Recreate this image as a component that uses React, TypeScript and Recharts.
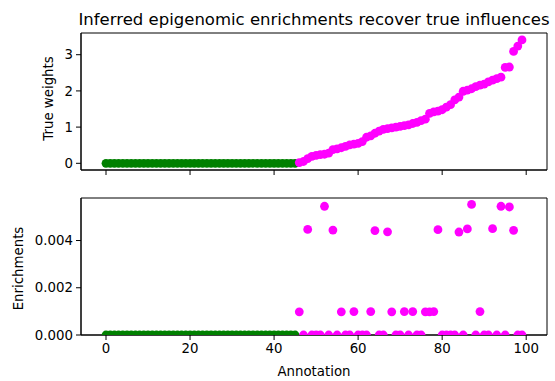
import React from "react";
import { ScatterChart, Scatter, XAxis, YAxis, ReferenceArea } from "recharts";

// annotations 0..45 have no influence, 46..99 are the active ones
const inactiveWeights = [
  0, 0, 0, 0, 0, 0, 0, 0, 0, 0, 0, 0, 0, 0, 0, 0, 0, 0, 0, 0, 0, 0, 0,
  0, 0, 0, 0, 0, 0, 0, 0, 0, 0, 0, 0, 0, 0, 0, 0, 0, 0, 0, 0, 0, 0, 0,
];
const activeWeights = [
  0.02, 0.05, 0.13, 0.19, 0.22, 0.24, 0.25, 0.28, 0.38, 0.4, 0.43, 0.47,
  0.51, 0.53, 0.55, 0.6, 0.72, 0.76, 0.83, 0.89, 0.94, 0.96, 0.98, 1.0,
  1.02, 1.04, 1.06, 1.1, 1.13, 1.18, 1.22, 1.38, 1.42, 1.44, 1.48, 1.55,
  1.62, 1.75, 1.83, 1.99, 2.02, 2.06, 2.12, 2.16, 2.19, 2.25, 2.3, 2.34,
  2.38, 2.65, 2.66, 3.09, 3.24, 3.41,
];
const inactiveEnrichments = [
  0, 0, 0, 0, 0, 0, 0, 0, 0, 0, 0, 0, 0, 0, 0, 0, 0, 0, 0, 0, 0, 0, 0,
  0, 0, 0, 0, 0, 0, 0, 0, 0, 0, 0, 0, 0, 0, 0, 0, 0, 0, 0, 0, 0, 0, 0,
];
const activeEnrichments = [
  0.00098, 0, 0.00447, 0, 0, 0, 0.00545, 0, 0.00444, 0, 0.00098, 0, 0,
  0.00099, 0, 0, 0, 0.00099, 0.00442, 0, 0, 0.00437, 0.00098, 0, 0,
  0.00099, 0, 0.00099, 0, 0, 0.00098, 0.00098, 0.00099, 0.00446, 0, 0, 0,
  0, 0.00436, 0, 0.00449, 0.00553, 0, 0.00099, 0, 0, 0.0045, 0, 0.00545,
  0, 0.00542, 0.00443, 0, 0,
];

const xTicks = [0, 20, 40, 60, 80, 100];
const weightTicks = [0, 1, 2, 3];
const enrichmentTicks = [0, 0.002, 0.004];

const X_DOMAIN: [number, number] = [-5.95, 104.95];
const WEIGHT_DOMAIN: [number, number] = [-0.185, 3.6];
const ENRICH_DOMAIN: [number, number] = [0, 0.0058];

const FONT = "DejaVu Sans, sans-serif";
const GREEN = "#008000";
const MAGENTA = "#ff00ff";

const toPoints = (values: number[], start: number) =>
  values.map((y, i) => ({ x: start + i, y }));

const Dot = (props: any) => (
  <circle cx={props.cx} cy={props.cy} r={4.4} fill={props.fill} />
);

const tickStyle = { fill: "#000", fontSize: 13.33, fontFamily: FONT };

function yTitle(text: string, dx: number, dy: number) {
  return (props: any) => {
    const vb = props.viewBox || {};
    const cx = (vb.x ?? 0) + dx;
    const cy = (vb.y ?? 0) + (vb.height ?? 0) / 2 + dy;
    return (
      <text
        x={cx}
        y={cy}
        transform={`rotate(-90, ${cx}, ${cy})`}
        textAnchor="middle"
        dominantBaseline="central"
        fill="#000"
        fontSize={13.33}
        fontFamily={FONT}
      >
        {text}
      </text>
    );
  };
}

function xTitle(text: string) {
  return (props: any) => {
    const vb = props.viewBox || {};
    const cx = (vb.x ?? 0) + (vb.width ?? 0) / 2;
    return (
      <text
        x={cx}
        y={(vb.y ?? 0) + 41}
        textAnchor="middle"
        fill="#000"
        fontSize={13.33}
        fontFamily={FONT}
      >
        {text}
      </text>
    );
  };
}

export default function App() {
  const topGreen = toPoints(inactiveWeights, 0);
  const topMagenta = toPoints(activeWeights, inactiveWeights.length);
  const botGreen = toPoints(inactiveEnrichments, 0);
  const botMagenta = toPoints(activeEnrichments, inactiveEnrichments.length);

  return (
    <div
      style={{
        position: "absolute",
        left: 0,
        top: 0,
        width: 555,
        height: 381,
        background: "#fff",
        fontFamily: FONT,
      }}
    >
      <div
        style={{
          position: "absolute",
          left: 314,
          top: 11,
          transform: "translateX(-50%)",
          fontSize: 16.5,
          lineHeight: "17px",
          whiteSpace: "nowrap",
          color: "#000",
        }}
      >
        Inferred epigenomic enrichments recover true influences
      </div>

      <div style={{ position: "absolute", left: 0, top: 0 }}>
        <ScatterChart
          width={555}
          height={190}
          margin={{ top: 33, right: 8, bottom: 0, left: 11 }}
        >
          <XAxis
            type="number"
            dataKey="x"
            domain={X_DOMAIN}
            ticks={xTicks}
            allowDataOverflow
            tickFormatter={() => ""}
            height={20}
            tickSize={5}
            stroke="#000"
          />
          <YAxis
            type="number"
            dataKey="y"
            domain={WEIGHT_DOMAIN}
            ticks={weightTicks}
            width={70}
            tickSize={5}
            tickMargin={3}
            stroke="#000"
            tick={tickStyle}
            label={yTitle("True weights", 37, -3)}
          />
          <ReferenceArea
            x1={X_DOMAIN[0]}
            x2={X_DOMAIN[1]}
            y1={WEIGHT_DOMAIN[0]}
            y2={WEIGHT_DOMAIN[1]}
            ifOverflow="visible"
            fill="none"
            stroke="#000"
            strokeWidth={1}
          />
          <Scatter data={topGreen} fill={GREEN} shape={Dot} isAnimationActive={false} />
          <Scatter data={topMagenta} fill={MAGENTA} shape={Dot} isAnimationActive={false} />
        </ScatterChart>
      </div>

      <div style={{ position: "absolute", left: 0, top: 190 }}>
        <ScatterChart
          width={555}
          height={191}
          margin={{ top: 8, right: 8, bottom: 0, left: 11 }}
        >
          <XAxis
            type="number"
            dataKey="x"
            domain={X_DOMAIN}
            ticks={xTicks}
            allowDataOverflow
            height={46}
            tickSize={5}
            tickMargin={4}
            stroke="#000"
            tick={tickStyle}
            label={xTitle("Annotation")}
          />
          <YAxis
            type="number"
            dataKey="y"
            domain={ENRICH_DOMAIN}
            ticks={enrichmentTicks}
            allowDataOverflow
            width={70}
            tickSize={5}
            tickMargin={3}
            stroke="#000"
            tick={tickStyle}
            tickFormatter={(v: number) => v.toFixed(3)}
            label={yTitle("Enrichments", 7, 2)}
          />
          <ReferenceArea
            x1={X_DOMAIN[0]}
            x2={X_DOMAIN[1]}
            y1={ENRICH_DOMAIN[0]}
            y2={ENRICH_DOMAIN[1]}
            ifOverflow="visible"
            fill="none"
            stroke="#000"
            strokeWidth={1}
          />
          <Scatter data={botGreen} fill={GREEN} shape={Dot} isAnimationActive={false} />
          <Scatter data={botMagenta} fill={MAGENTA} shape={Dot} isAnimationActive={false} />
        </ScatterChart>
      </div>
    </div>
  );
}
